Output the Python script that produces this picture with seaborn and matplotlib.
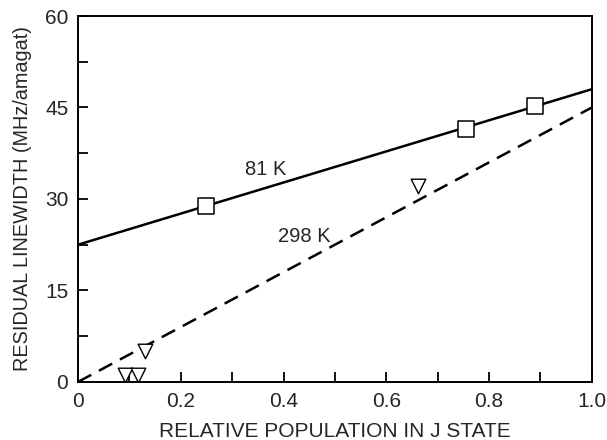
import matplotlib
matplotlib.use("Agg")
import matplotlib.pyplot as plt
import seaborn as sns
import pandas as pd
from matplotlib.ticker import MultipleLocator, FixedFormatter, FixedLocator

# Data
pop_81 = [0.25, 0.755, 0.889]
lw_81 = [28.9, 41.4, 45.3]
pop_298 = [0.091, 0.117, 0.13, 0.661]
lw_298 = [1.2, 1.2, 5.0, 32.2]
fit_x = [0.0, 1.0]
fit_81 = [22.5, 48.0]
fit_298 = [0.0, 45.0]

x_ticks = [0, 0.2, 0.4, 0.6, 0.8, 1.0]
x_ticklabels = ["0", "0.2", "0.4", "0.6", "0.8", "1.0"]
y_ticks = [0, 15, 30, 45, 60]
y_ticklabels = ["0", "15", "30", "45", "60"]

sns.set_style("ticks")
plt.rcParams["font.family"] = ["Liberation Sans", "DejaVu Sans"]

fig = plt.figure(figsize=(6.07, 4.40), dpi=100)
ax = fig.add_axes([0.1285, 0.132, 0.8465, 0.8316])

df_fit = pd.DataFrame({"x": fit_x, "y81": fit_81, "y298": fit_298})
sns.lineplot(data=df_fit, x="x", y="y81", ax=ax, color="black", linewidth=1.8)
sns.lineplot(data=df_fit, x="x", y="y298", ax=ax, color="black", linewidth=1.8,
             dashes=False, linestyle=(0, (6, 3.5)))

df81 = pd.DataFrame({"x": pop_81, "y": lw_81})
df298 = pd.DataFrame({"x": pop_298, "y": lw_298})
sns.scatterplot(data=df81, x="x", y="y", ax=ax, marker="s", s=130,
                facecolor="white", edgecolor="black", linewidth=1.1, zorder=5)
sns.scatterplot(data=df298, x="x", y="y", ax=ax, marker="v", s=110,
                facecolor="white", edgecolor="black", linewidth=1.0, zorder=5)

ax.text(0.325, 34.8, "81 K", fontsize=14.5, ha="left", va="center")
ax.text(0.39, 23.8, "298 K", fontsize=14.5, ha="left", va="center")

ax.set_xlim(0, 1.0)
ax.set_ylim(0, 60)
ax.xaxis.set_major_locator(FixedLocator(x_ticks))
ax.xaxis.set_major_formatter(FixedFormatter(x_ticklabels))
ax.xaxis.set_minor_locator(MultipleLocator(0.1))
ax.yaxis.set_major_locator(FixedLocator(y_ticks))
ax.yaxis.set_major_formatter(FixedFormatter(y_ticklabels))
ax.yaxis.set_minor_locator(MultipleLocator(7.5))
ax.tick_params(which="both", direction="in", length=7, width=1.3, color="black",
               top=False, right=False, labelsize=15, pad=7)

for s in ax.spines.values():
    s.set_linewidth(1.4)
    s.set_color("black")
    s.set_visible(True)

ax.set_xlabel("RELATIVE POPULATION IN J STATE", fontsize=15, labelpad=8)
ax.set_ylabel("RESIDUAL LINEWIDTH (MHz/amagat)", fontsize=14.3, labelpad=9)

fig.savefig("out.png", dpi=100)
